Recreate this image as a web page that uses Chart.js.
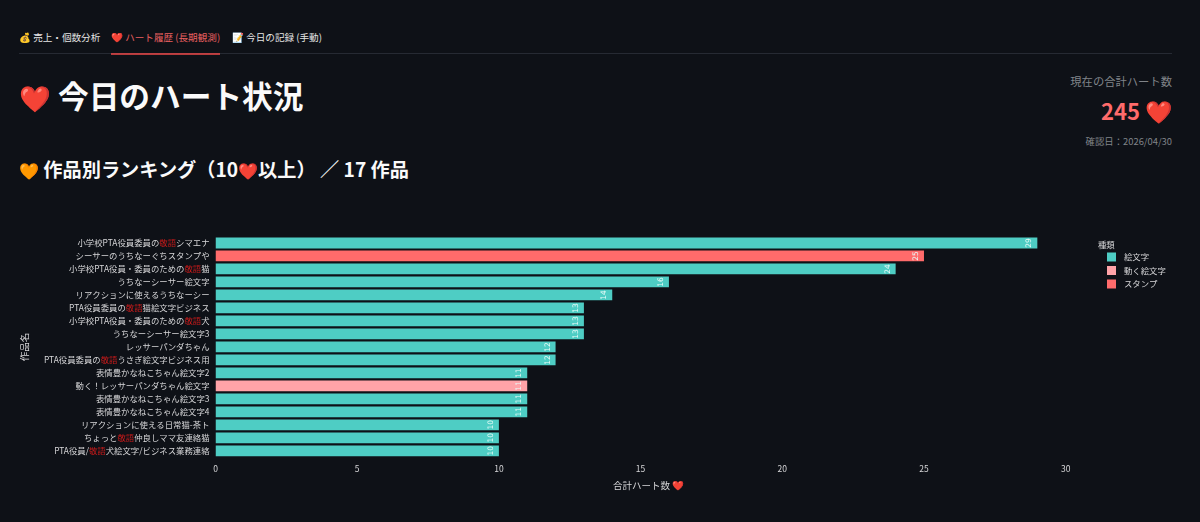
<!DOCTYPE html>
<html lang="ja">
<head>
<meta charset="utf-8">
<title>ハート履歴</title>
<script src="https://cdn.jsdelivr.net/npm/chart.js@4"></script>
<style>
  html, body { margin: 0; padding: 0; width: 1200px; height: 522px; overflow: hidden; background: #0e1117; color: #fafafa;
    font-family: "Noto Sans CJK JP", "Noto Sans", sans-serif; }
  .abs { position: absolute; white-space: nowrap; }
  .tabs { left: 19px; top: 30px; font-size: 9.6px; line-height: 15px; color: #e6e6e6; }
  .rule { left: 19px; top: 53px; width: 1153px; height: 1px; background: #262a33; }
  .active { left: 111px; top: 52.5px; width: 109px; height: 2px; background: #ff4b4b; opacity: .7; }
  h1 { margin: 0; left: 19px; top: 74px; font-size: 30.7px; line-height: 42px; font-weight: 700; }
  h1 .heart { font-size: 25.5px; }
  h2 { margin: 0; left: 19px; top: 155px; font-size: 19.2px; line-height: 28px; font-weight: 700; }
  h2 .heart, h2 .orange { font-size: 16px; }
  .heart { color: #f5333f; }
  .orange { color: #f58a1f; }
  .r { right: 28px; text-align: right; }
  #chartWrap { position: absolute; left: 0; top: 200px; width: 1200px; height: 322px; }
  .legendTitle { left: 1098px; top: 238px; font-size: 8.4px; line-height: 12px; color: #d6d6d8; }
</style>
</head>
<body>
<div class="abs tabs"><span style="position:absolute;left:0">💰 売上・個数分析</span><span style="position:absolute;left:92px;color:#e96060">❤️ ハート履歴 (長期観測)</span><span style="position:absolute;left:213px">📝 今日の記録 (手動)</span></div>
<div class="abs rule"></div>
<div class="abs active"></div>
<h1 class="abs"><span class="heart">❤️</span> 今日のハート状況</h1>
<h2 class="abs"><span class="orange">🧡</span> 作品別ランキング（10<span class="heart">❤️</span>以上） ／ 17 作品</h2>
<div class="abs r" style="top:73px;font-size:11.3px;line-height:16px;color:#808489">現在の合計ハート数</div>
<div class="abs r" style="top:93px;font-size:22px;line-height:34px;font-weight:700;color:#ff6b6b">245 <span class="heart">❤️</span></div>
<div class="abs r" style="top:134px;font-size:9.4px;line-height:14px;color:#808489">確認日：2026/04/30</div>
<div id="chartWrap"><canvas id="heartChart"></canvas></div>
<div class="abs legendTitle">種類</div>
<script>
// ===== data =====
const titles = [
  '小学校PTA役員委員の敬語シマエナ',
  'シーサーのうちなーぐちスタンプや',
  '小学校PTA役員・委員のための敬語猫',
  'うちなーシーサー絵文字',
  'リアクションに使えるうちなーシー',
  'PTA役員委員の敬語猫絵文字ビジネス',
  '小学校PTA役員・委員のための敬語犬',
  'うちなーシーサー絵文字3',
  'レッサーパンダちゃん',
  'PTA役員委員の敬語うさぎ絵文字ビジネス用',
  '表情豊かなねこちゃん絵文字2',
  '動く！レッサーパンダちゃん絵文字',
  '表情豊かなねこちゃん絵文字3',
  '表情豊かなねこちゃん絵文字4',
  'リアクションに使える日常猫-茶ト',
  'ちょっと敬語仲良しママ友連絡猫',
  'PTA役員/敬語犬絵文字/ビジネス業務連絡'
];
const emojiHearts =    [29, null, 24, 16, 14, 13, 13, 13, 12, 12, 11, null, 11, 11, 10, 10, 10];
const animatedHearts = [null, null, null, null, null, null, null, null, null, null, null, 11, null, null, null, null, null];
const stampHearts =    [null, 25, null, null, null, null, null, null, null, null, null, null, null, null, null, null, null];
const xTicks = [0, 5, 10, 15, 20, 25, 30];

const FONT = '"Noto Sans CJK JP", "Noto Sans", sans-serif';
const KEIGO = '敬語';

// y軸ラベル：「敬語」だけ赤くする
const twoToneLabels = {
  id: 'twoToneLabels',
  afterDraw(chart) {
    const { ctx, scales: { y } } = chart;
    ctx.save();
    ctx.font = '8.4px ' + FONT;
    ctx.textBaseline = 'middle';
    ctx.textAlign = 'left';
    titles.forEach((t, i) => {
      const yPos = y.getPixelForTick(i);
      let x = y.right - 6 - ctx.measureText(t).width;
      t.split(new RegExp('(' + KEIGO + ')')).forEach(part => {
        ctx.fillStyle = part === KEIGO ? '#c41a1a' : '#d6d6d8';
        ctx.fillText(part, x, yPos);
        x += ctx.measureText(part).width;
      });
    });
    ctx.restore();
  }
};

// バー内の数値（縦書き）
const valueLabels = {
  id: 'valueLabels',
  afterDatasetsDraw(chart) {
    const { ctx } = chart;
    chart.data.datasets.forEach((ds, d) => {
      chart.getDatasetMeta(d).data.forEach((bar, i) => {
        if (ds.data[i] == null) return;
        ctx.save();
        ctx.font = '7.5px "DejaVu Sans", sans-serif';
        ctx.textAlign = 'center';
        ctx.textBaseline = 'middle';
        ctx.translate(bar.x - 8, bar.y);
        ctx.rotate(-Math.PI / 2);
        ctx.fillStyle = '#e8fbf8';
        ctx.fillText(String(ds.data[i]), 0, 0);
        ctx.restore();
      });
    });
  }
};

// 凡例の位置を固定（右上）
const legendSpot = {
  id: 'legendSpot',
  afterLayout(chart) {
    const lg = chart.legend;
    lg.left = 1102.5;
    lg.right = 1200;
    lg.top = 48;
    lg.bottom = 110;
  }
};

new Chart(document.getElementById('heartChart'), {
  type: 'bar',
  data: {
    labels: titles,
    datasets: [
      { label: '絵文字', data: emojiHearts, backgroundColor: '#4ecdc4' },
      { label: '動く絵文字', data: animatedHearts, backgroundColor: '#ffa3a8' },
      { label: 'スタンプ', data: stampHearts, backgroundColor: '#ff6b6b' }
    ]
  },
  plugins: [twoToneLabels, valueLabels, legendSpot],
  options: {
    indexAxis: 'y',
    responsive: true,
    maintainAspectRatio: false,
    animation: false,
    layout: { padding: { top: 36.5, bottom: 0, left: 0, right: 61 } },
    datasets: { bar: { categoryPercentage: 1, barPercentage: 0.83 } },
    scales: {
      x: {
        stacked: true,
        min: 0,
        max: 30,
        grid: { display: false, drawTicks: false },
        border: { display: false },
        afterBuildTicks: scale => { scale.ticks = xTicks.map(v => ({ value: v })); },
        ticks: { color: '#d6d6d8', font: { size: 8.5, family: FONT }, maxRotation: 0, padding: 6 },
        title: { display: true, text: '\u3000   合計ハート数 ❤️', color: '#d6d6d8', font: { size: 9.5, family: FONT }, padding: { top: 0, bottom: 31.1 } }
      },
      y: {
        stacked: true,
        grid: { display: false, drawTicks: false },
        border: { display: false },
        afterFit: scale => { scale.width = 215.5; },
        ticks: { color: 'rgba(0,0,0,0)', font: { size: 8.4, family: FONT }, autoSkip: false },
        title: { display: true, text: '作品名', color: '#d6d6d8', font: { size: 9.5, family: FONT }, padding: { top: 19, bottom: 0 } }
      }
    },
    plugins: {
      tooltip: { enabled: false },
      legend: {
        position: 'right',
        align: 'start',
        labels: {
          color: '#d6d6d8', boxWidth: 9, boxHeight: 9, padding: 4.5, font: { size: 8.4, family: FONT },
          generateLabels(chart) {
            return Chart.defaults.plugins.legend.labels.generateLabels(chart).map(l => ({ ...l, text: '  ' + l.text }));
          }
        }
      }
    }
  }
});
</script>
</body>
</html>
